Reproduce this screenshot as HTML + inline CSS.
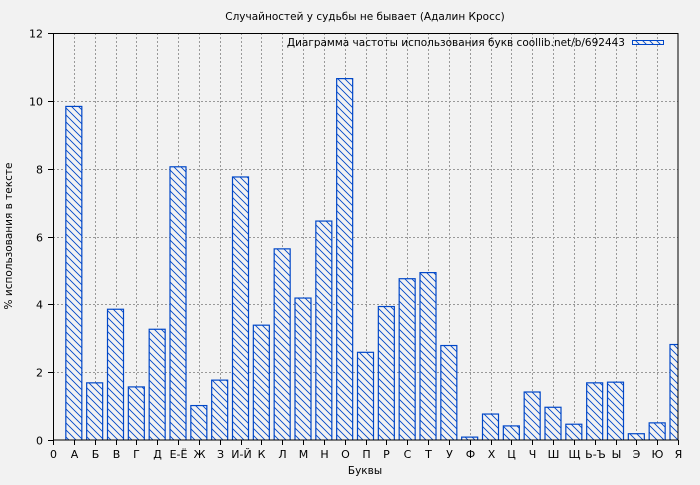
<!DOCTYPE html>
<html><head><meta charset="utf-8"><style>
body{margin:0;background:#f2f2f2;}
svg text{font-family:"DejaVu Sans","Liberation Sans",sans-serif;fill:#000;}
</style></head><body>
<svg width="700" height="480" xmlns="http://www.w3.org/2000/svg">
<defs>
<pattern id="h" patternUnits="userSpaceOnUse" width="7" height="7">
<rect width="7" height="7" fill="#f2f2f2"/>
<path d="M-1,-1 L8,8 M-1,6 L1,8 M6,-1 L8,1" stroke="#0047c8" stroke-width="0.9"/>
</pattern>
<clipPath id="c"><rect x="53" y="33" width="625" height="407"/></clipPath>
</defs>
<rect width="700" height="480" fill="#f2f2f2"/>
<text x="365" y="20" font-size="10.5" text-anchor="middle">Случайностей у судьбы не бывает (Адалин Кросс)</text>
<g id="grid" stroke="#999" stroke-dasharray="2,2" stroke-width="1"></g>
<g id="bars" clip-path="url(#c)"></g>
<rect x="53.5" y="33.5" width="624.5" height="406.5" fill="none" stroke="#000" stroke-width="1"/>
<g id="ticks" stroke="#000"></g>
<g id="lbl" font-size="11"></g>
<text x="625" y="46" font-size="10.5" text-anchor="end">Диаграмма частоты использования букв coollib.net/b/692443</text>
<rect x="632.5" y="40.5" width="31" height="4" fill="url(#h)" stroke="#0047c8"/>
<text x="365" y="474" font-size="10.5" text-anchor="middle">Буквы</text>
<text transform="translate(12,236) rotate(-90)" font-size="10.5" text-anchor="middle">% использования в тексте</text>
</svg>
<script>
const L=["0","А","Б","В","Г","Д","Е-Ё","Ж","З","И-Й","К","Л","М","Н","О","П","Р","С","Т","У","Ф","Х","Ц","Ч","Ш","Щ","Ь-Ъ","Ы","Э","Ю","Я"];
const V=[null,9.85,1.7,3.87,1.58,3.28,8.07,1.03,1.78,7.77,3.4,5.65,4.2,6.47,10.67,2.6,3.95,4.77,4.95,2.8,0.1,0.78,0.43,1.43,0.98,0.48,1.7,1.72,0.2,0.52,2.83];
const ns="http://www.w3.org/2000/svg";
function el(p,t,a,txt){const e=document.createElementNS(ns,t);for(const k in a)e.setAttribute(k,a[k]);if(txt!==undefined)e.textContent=txt;document.getElementById(p).appendChild(e);}
const X=i=>53+i*625/30, Y=v=>440-v*407/12;
for(let i=1;i<30;i++){const x=Math.round(X(i))+0.5;el("grid","line",{x1:x,x2:x,y1:33,y2:440});}
for(let v=2;v<12;v+=2){const y=Math.round(Y(v))+0.5;el("grid","line",{x1:53,x2:678,y1:y,y2:y});}
for(let i=1;i<=30;i++){const x=X(i);el("bars","rect",{x:x-8,y:Y(V[i])+0.5,width:16,height:440-Y(V[i]),fill:"url(#h)",stroke:"#0047c8","stroke-width":1.2});}
for(let i=0;i<=30;i++){const x=Math.round(X(i))+0.5;el("ticks","line",{x1:x,x2:x,y1:440,y2:445});el("lbl","text",{x:x,y:458,"text-anchor":"middle"},L[i]);}
for(let v=0;v<=12;v+=2){const y=Math.round(Y(v))+0.5;el("ticks","line",{x1:48,x2:53,y1:y,y2:y});el("lbl","text",{x:43,y:y+4,"text-anchor":"end"},String(v));}
</script>
</body></html>
